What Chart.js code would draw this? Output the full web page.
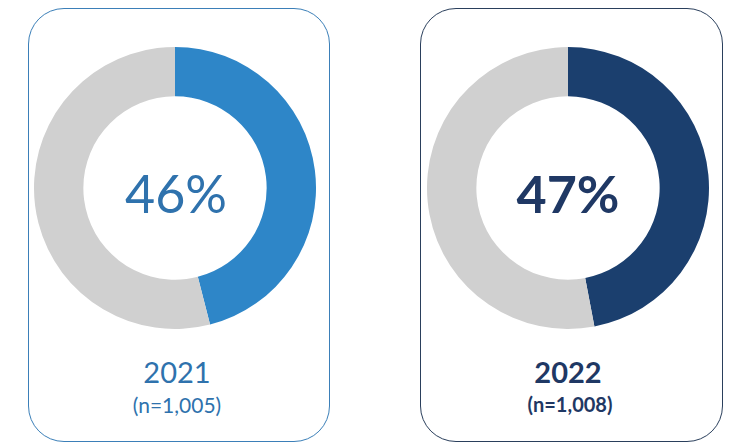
<!DOCTYPE html>
<html>
<head>
<meta charset="utf-8">
<script src="https://cdn.jsdelivr.net/npm/chart.js@4"></script>
<style>
  html, body { margin:0; padding:0; background:#ffffff; }
  body { width:730px; height:442px; position:relative; overflow:hidden; font-family: Lato, "Open Sans", sans-serif; }
  .card { position:absolute; top:8px; height:434px; border-radius:36px; box-sizing:border-box; }
  #card1 { left:28px; width:302px; border:1.5px solid #3b7fb8; }
  #card2 { left:420px; width:303px; border:1.5px solid #2a3f5c; }
  canvas.donut { position:absolute; }
  .lbl { position:absolute; text-align:center; white-space:nowrap; transform:translate(-50%,-50%); line-height:1; }
</style>
</head>
<body>
<div class="card" id="card1"></div>
<div class="card" id="card2"></div>
<div style="position:absolute;left:34px;top:47px;width:282px;height:282px;"><canvas id="c1" class="donut"></canvas></div>
<div style="position:absolute;left:427px;top:47px;width:282px;height:282px;"><canvas id="c2" class="donut"></canvas></div>
<div class="lbl" id="p1" style="left:176px;top:193px;font-size:52px;color:#2f72ad;"></div>
<div class="lbl" id="p2" style="left:568px;top:193px;font-size:52px;font-weight:700;color:#1f3864;"></div>
<div class="lbl" id="y1" style="left:177px;top:371px;font-size:29px;color:#2f72ad;"></div>
<div class="lbl" id="y2" style="left:568px;top:371px;font-size:29px;font-weight:700;color:#1f3864;"></div>
<div class="lbl" id="n1" style="left:177px;top:404px;font-size:21px;color:#2f72ad;"></div>
<div class="lbl" id="n2" style="left:570px;top:404px;font-size:20px;font-weight:700;color:#1f3864;"></div>
<script>
const years = ["2021", "2022"];
const sampleSizes = ["1,005", "1,008"];
const shareValues = [46, 47];
const remainderValues = [54, 53];
const segmentLabels = ["Yes", "Other"];
const highlightColors = ["#2e86c8", "#1b3f6e"];
const restColor = "#d0d0d0";

function makeDonut(id, i) {
  new Chart(document.getElementById(id), {
    type: 'doughnut',
    data: {
      labels: segmentLabels,
      datasets: [{
        data: [shareValues[i], remainderValues[i]],
        backgroundColor: [highlightColors[i], restColor],
        borderWidth: 0
      }]
    },
    options: {
      responsive: true,
      maintainAspectRatio: false,
      animation: false,
      cutout: '65%',
      rotation: 0,
      layout: { padding: 0 },
      plugins: { legend: { display: false }, tooltip: { enabled: false } }
    }
  });
}
makeDonut('c1', 0);
makeDonut('c2', 1);
document.getElementById('p1').textContent = shareValues[0] + '%';
document.getElementById('p2').textContent = shareValues[1] + '%';
document.getElementById('y1').textContent = years[0];
document.getElementById('y2').textContent = years[1];
document.getElementById('n1').textContent = '(n=' + sampleSizes[0] + ')';
document.getElementById('n2').textContent = '(n=' + sampleSizes[1] + ')';
</script>
</body>
</html>
